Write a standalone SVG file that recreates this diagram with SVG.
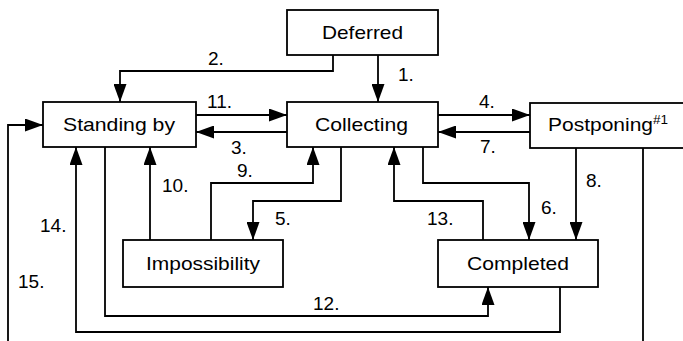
<svg xmlns="http://www.w3.org/2000/svg" width="683" height="341" viewBox="0 0 683 341">
  <style>
    .box { fill: #ffffff; stroke: #000000; stroke-width: 1.8; }
    .name { font-family: "Liberation Sans", Arial, sans-serif; font-size: 19px; fill: #000000; text-anchor: middle; }
    .sup { font-family: "Liberation Sans", Arial, sans-serif; font-size: 12px; fill: #000000; }
    .edge { fill: none; stroke: #000000; stroke-width: 1.8; }
    .lbl { font-family: "Liberation Sans", Arial, sans-serif; font-size: 19px; fill: #000000; }
  </style>
  <defs>
    <marker id="arrow" markerUnits="userSpaceOnUse" markerWidth="19" markerHeight="13" refX="18" refY="6.5" orient="auto">
      <path d="M0,0 L18,6.5 L0,13 z" fill="#000000"/>
    </marker>
  </defs>

  <rect width="683" height="341" fill="#ffffff"/>

  <!-- transitions -->
  <g id="connectors">
    <path class="edge" marker-end="url(#arrow)" d="M378,55 V102"/>
    <path class="edge" marker-end="url(#arrow)" d="M333,55 V71 H120 V102"/>
    <path class="edge" marker-end="url(#arrow)" d="M196,115 H287"/>
    <path class="edge" marker-end="url(#arrow)" d="M287,132 H196"/>
    <path class="edge" marker-end="url(#arrow)" d="M438,115 H530"/>
    <path class="edge" marker-end="url(#arrow)" d="M530,132 H438"/>
    <path class="edge" marker-end="url(#arrow)" d="M576,148 V240"/>
    <path class="edge" marker-end="url(#arrow)" d="M643,148 V352 H8 V125 H43"/>
    <path class="edge" marker-end="url(#arrow)" d="M560,287 V332 H76 V147"/>
    <path class="edge" marker-end="url(#arrow)" d="M105,147 V316 H488 V287"/>
    <path class="edge" marker-end="url(#arrow)" d="M150,240 V147"/>
    <path class="edge" marker-end="url(#arrow)" d="M211,240 V183 H313 V147"/>
    <path class="edge" marker-end="url(#arrow)" d="M341,147 V201 H253 V240"/>
    <path class="edge" marker-end="url(#arrow)" d="M483,240 V201 H394 V147"/>
    <path class="edge" marker-end="url(#arrow)" d="M423,147 V183 H529 V240"/>

    <text class="lbl" x="398" y="81">1.</text>
    <text class="lbl" x="208" y="65">2.</text>
    <text class="lbl" x="231" y="154">3.</text>
    <text class="lbl" x="479" y="108">4.</text>
    <text class="lbl" x="275" y="225">5.</text>
    <text class="lbl" x="541" y="214">6.</text>
    <text class="lbl" x="480" y="153">7.</text>
    <text class="lbl" x="586" y="187">8.</text>
    <text class="lbl" x="237" y="177">9.</text>
    <text class="lbl" x="162" y="192">10.</text>
    <text class="lbl" x="207" y="108">11.</text>
    <text class="lbl" x="313" y="310">12.</text>
    <text class="lbl" x="427" y="225">13.</text>
    <text class="lbl" x="40" y="232">14.</text>
    <text class="lbl" x="18" y="288">15.</text>
  </g>

  <!-- states -->
  <g id="deferred">
    <rect class="box" x="287" y="10" width="151" height="45"/>
    <text class="name" x="362.5" y="39" textLength="81" lengthAdjust="spacingAndGlyphs">Deferred</text>
  </g>
  <g id="standing-by">
    <rect class="box" x="43" y="102" width="153" height="45"/>
    <text class="name" x="119" y="131" textLength="112" lengthAdjust="spacingAndGlyphs">Standing by</text>
  </g>
  <g id="collecting">
    <rect class="box" x="287" y="102" width="151" height="45"/>
    <text class="name" x="361.5" y="131" textLength="93" lengthAdjust="spacingAndGlyphs">Collecting</text>
  </g>
  <g id="postponing">
    <rect class="box" x="530" y="103" width="160" height="45"/>
    <text class="name" x="600.5" y="131" textLength="105" lengthAdjust="spacingAndGlyphs">Postponing</text>
    <text class="sup" x="653" y="124" textLength="15" lengthAdjust="spacingAndGlyphs">#1</text>
  </g>
  <g id="impossibility">
    <rect class="box" x="123" y="240" width="160" height="47"/>
    <text class="name" x="203" y="270" textLength="114" lengthAdjust="spacingAndGlyphs">Impossibility</text>
  </g>
  <g id="completed">
    <rect class="box" x="438" y="240" width="160" height="47"/>
    <text class="name" x="518" y="270" textLength="102" lengthAdjust="spacingAndGlyphs">Completed</text>
  </g>
</svg>
